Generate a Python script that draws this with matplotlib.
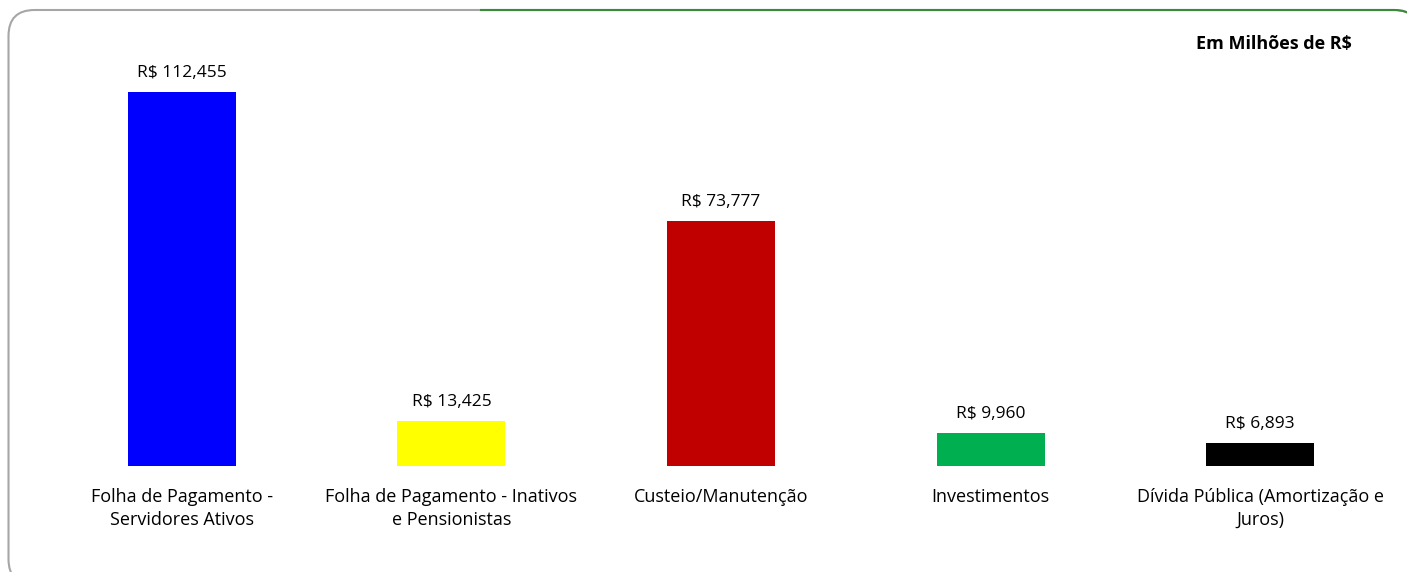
import matplotlib
matplotlib.use("Agg")
import matplotlib.pyplot as plt
from matplotlib.patches import FancyBboxPatch, Rectangle

plt.rcParams['font.family'] = ['Open Sans', 'DejaVu Sans']

# dados (em milhões de R$)
categorias = ["Folha de Pagamento -\nServidores Ativos",
              "Folha de Pagamento - Inativos\ne Pensionistas",
              "Custeio/Manutenção",
              "Investimentos",
              "Dívida Pública (Amortização e\nJuros)"]
valores = [112455, 13425, 73777, 9960, 6893]
rotulos = ["R$ 112,455", "R$ 13,425", "R$ 73,777", "R$ 9,960", "R$ 6,893"]
cores = ["#0000ff", "#ffff00", "#c00000", "#00b050", "#000000"]

W, H = 1407, 572
fig = plt.figure(figsize=(W / 100, H / 100), dpi=100)

# moldura arredondada (cinza, com topo verde), cortada na direita e embaixo
bg = fig.add_axes([0, 0, 1, 1])
bg.set_xlim(0, W)
bg.set_ylim(H, 0)
bg.axis("off")
estilo = "round,pad=0,rounding_size=26"
bg.add_patch(FancyBboxPatch((8.5, 10), 1420 - 8.5, 585 - 10, boxstyle=estilo,
                            fc="white", ec="#a6a6a6", lw=1.5))
verde = FancyBboxPatch((8.5, 10), 1420 - 8.5, 585 - 10, boxstyle=estilo,
                       fc="none", ec="#3a8a3a", lw=1.5)
bg.add_patch(verde)
verde.set_clip_path(Rectangle((480, 0), W, 120, transform=bg.transData))
bg.text(1352, 44, "Em Milhões de R$", ha="right", va="center",
        fontsize=13, fontweight="bold")

# eixo dos dados
x0, x1 = 47, 1395
base = 466
escala = 374 / 112455
ymax = 130000
top = base - ymax * escala
ax = fig.add_axes([x0 / W, (H - base) / H, (x1 - x0) / W, (base - top) / H])
ax.set_xlim(-0.5, 4.5)
ax.set_ylim(0, ymax)
ax.patch.set_alpha(0)

pos = range(len(valores))
ax.bar(pos, valores, width=0.4, color=cores)
for p, v, r in zip(pos, valores, rotulos):
    ax.annotate(r, (p, v), xytext=(0, 8), textcoords="offset points",
                ha="center", va="bottom", fontsize=12.5)

ax.set_xticks(list(pos))
ax.set_xticklabels(categorias, fontsize=13, linespacing=1.35)
ax.tick_params(axis="x", length=0, pad=16)
ax.set_yticks([])
for s in ax.spines.values():
    s.set_visible(False)

fig.savefig("out.png", dpi=100)
